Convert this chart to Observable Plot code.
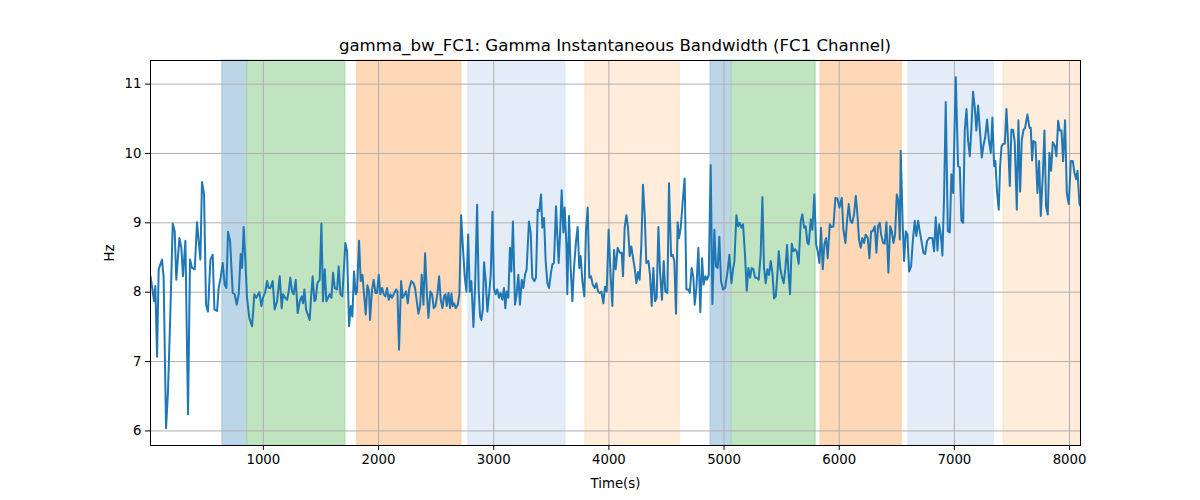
<!DOCTYPE html>
<html>
<head>
<meta charset="utf-8">
<script src="https://cdn.jsdelivr.net/npm/d3@7"></script>
<script src="https://cdn.jsdelivr.net/npm/@observablehq/plot@0.6"></script>
<style>
  body { margin: 0; background: white; }
  #wrap { width: 1200px; height: 500px; background: white; }
  #title { box-sizing: border-box; width: 1200px; height: 56px; padding-top: 38px; padding-left: 30px;
           text-align: center; font-family: "DejaVu Sans", sans-serif; font-size: 16.6px; line-height: 16px; color: black; }
</style>
</head>
<body>
<div id="wrap">
  <div id="title">gamma_bw_FC1: Gamma Instantaneous Bandwidth (FC1 Channel)</div>
  <div id="chart"></div>
</div>
<script>
const times = [
  20,39,51,62,77,91,120,134,155,172,192,213,230,244,271,288,302,323,346,363,381,404,424,438,453,467,485,502,519,540,
  560,575,598,612,629,647,664,679,693,711,734,751,768,786,803,815,829,844,858,878,902,922,939,965,983,997,
  1017,1032,1046,1061,1081,1098,1119,1142,1159,1171,1188,1206,1220,1234,1249,1263,1281,1298,1316,1333,1344,1356,1371,1385,
  1402,1414,1428,1443,1454,1469,1489,1504,1518,1533,1547,1562,1576,1591,1605,1620,1640,1654,1669,1686,1712,1727,1744,1759,
  1773,1787,1802,1813,1831,1845,1860,1874,1889,1903,1918,1926,1944,1958,1973,1987,
  2002,2016,2031,2045,2060,2074,2089,2103,2117,2132,2152,2164,2178,2196,2210,2227,2239,2254,2268,2285,2303,2317,2332,2346,
  2361,2375,2390,2404,2419,2433,2450,2465,2479,2494,2511,2526,2540,2555,2569,2581,2592,2607,2621,2633,2644,2656,2670,2688,
  2702,2717,2731,2749,2763,2778,2792,2806,2824,2838,2856,2870,2882,2893,2905,2916,2931,2945,2960,2974,2989,
  3002,3017,3031,3046,3060,3075,3089,3101,3112,3127,3141,3153,3167,3185,3199,3214,3228,3243,3257,3272,3286,3306,3321,3335,
  3353,3367,3382,3396,3411,3422,3437,3451,3466,3480,3495,3509,3523,3541,3552,3564,3576,3590,3605,3616,3631,3639,3654,3668,
  3683,3697,3715,3729,3743,3755,3770,3787,3801,3816,3830,3845,3859,3877,3891,3906,3920,3935,3952,3966,3981,3998,
  4016,4030,4045,4059,4076,4094,4111,4123,4137,4152,4166,4181,4195,4210,4224,4239,4253,4267,4282,4296,4311,4325,4343,4357,
  4372,4386,4401,4415,4430,4444,4461,4476,4490,4508,4522,4540,4554,4568,4583,4597,4609,4624,4641,4658,4673,4690,4702,4719,
  4734,4745,4760,4777,4794,4809,4823,4838,4852,4867,4884,4899,4916,4930,4945,4959,4974,4991,
  5009,5029,5046,5064,5078,5090,5107,5122,5136,5150,5165,5182,5197,5211,5226,5240,5255,5269,5284,5301,5318,5333,5347,5362,
  5376,5391,5405,5420,5434,5449,5463,5475,5489,5504,5518,5533,5547,5562,5573,5588,5602,5617,5631,5648,5666,5680,5695,5709,
  5724,5735,5753,5767,5784,5799,5813,5828,5842,5857,5871,5886,5900,5918,5932,5950,5967,5984,6002,
  6022,6036,6054,6068,6083,6097,6112,6129,6144,6158,6172,6187,6201,6216,6230,6248,6262,6277,6291,6309,6323,6337,6352,6364,
  6381,6395,6410,6427,6442,6456,6471,6485,6500,6514,6526,6534,6552,6563,6578,6592,6607,6624,6639,6656,6670,6685,6699,6717,
  6731,6746,6763,6780,6795,6809,6824,6838,6853,6867,6882,6896,6911,6925,6943,6960,6974,6989,
  7012,7032,7047,7061,7076,7090,7105,7119,7134,7148,7162,7177,7191,7206,7220,7238,7252,7267,7284,7299,7316,7330,7345,7356,
  7371,7385,7397,7409,7423,7438,7452,7466,7481,7495,7510,7524,7542,7556,7571,7585,7600,7614,7634,7652,7663,7675,7686,7704,
  7721,7736,7750,7768,7782,7796,7811,7825,7840,7854,7872,7886,7901,7915,7930,7944,7961,7976,7993,8011,8028,8043,8057,8069,
  8086,8095
];
const values = [
  8.23,8.01,7.87,8.09,7.07,8.33,8.47,8.21,6.04,6.57,7.68,8.99,8.88,8.18,8.78,8.64,8.23,8.74,6.24,8.47,8.35,8.33,9.01,8.74,8.47,9.59,9.41,7.82,7.72,8.47,
  8.54,7.75,7.73,8.06,8.21,8.42,8.11,8.06,8.87,8.74,7.99,7.97,7.82,7.97,8.55,8.35,8.94,8.45,7.92,7.63,7.51,7.97,7.92,8.00,7.80,7.92,
  8.01,8.16,8.06,8.06,8.16,7.75,7.87,8.23,7.77,7.97,7.92,7.89,8.01,8.21,8.01,7.97,8.18,7.70,7.87,7.94,7.84,8.04,7.75,7.68,
  7.60,7.92,8.23,7.87,7.89,8.13,8.18,8.99,7.87,8.33,7.87,7.92,7.97,7.92,8.28,8.06,8.04,8.37,7.97,7.94,8.71,8.59,7.51,7.80,
  7.65,8.30,7.97,8.01,8.74,8.16,8.25,7.97,7.68,8.10,8.01,7.60,8.04,8.18,7.99,7.99,
  8.25,7.97,8.06,7.97,7.94,8.06,7.89,7.97,7.92,7.97,8.04,8.01,7.17,8.16,7.92,7.97,8.01,7.84,8.06,8.16,8.13,8.06,7.87,7.69,
  7.80,8.25,7.82,8.56,8.01,7.63,8.01,7.97,7.77,7.80,7.97,8.23,7.89,7.77,7.94,7.97,7.80,7.99,7.77,7.98,7.80,7.84,7.77,7.82,
  7.97,9.11,8.69,8.21,8.01,8.83,8.01,8.16,7.50,8.06,9.26,8.01,7.65,7.60,7.75,8.43,8.16,7.72,7.97,8.25,9.16,
  8.06,7.97,8.04,7.92,7.99,7.89,8.06,7.77,8.01,7.92,8.64,8.30,9.02,7.82,7.97,8.25,7.82,8.18,8.06,8.25,8.33,9.02,8.86,8.21,
  8.16,8.21,9.19,9.17,9.41,8.93,9.07,8.45,8.13,8.06,8.25,8.40,8.42,9.24,8.83,8.42,8.83,9.47,8.86,9.22,8.69,7.97,9.10,8.35,
  7.87,8.35,8.74,8.94,8.35,8.52,8.16,7.94,8.88,9.22,8.21,8.23,8.11,8.06,8.13,8.01,7.99,8.01,7.84,8.08,8.01,8.90,
  8.21,7.80,8.61,8.33,8.64,8.57,8.57,8.23,8.93,9.11,8.93,8.52,8.66,8.49,8.35,8.13,8.29,8.18,8.69,9.55,9.12,8.42,8.45,8.25,
  7.80,8.35,7.87,7.92,8.94,8.30,7.89,8.45,8.01,7.99,9.57,8.52,8.54,8.45,7.69,9.01,8.78,8.93,9.31,9.64,8.04,8.04,7.99,8.35,
  8.21,7.82,8.06,8.64,7.71,8.49,8.11,8.23,8.18,8.25,9.83,7.83,8.90,8.37,8.35,8.80,8.16,8.04,
  8.06,8.28,8.54,8.13,8.33,8.45,9.11,8.95,9.00,8.93,8.98,8.54,8.02,8.35,8.21,8.35,8.33,8.21,8.21,8.18,8.54,9.37,8.35,8.13,
  8.33,8.25,8.45,8.28,7.91,7.94,8.25,8.59,8.33,8.21,8.13,8.35,8.68,8.21,7.97,8.70,8.59,8.62,8.59,8.41,9.03,9.12,8.93,8.95,
  8.71,8.69,9.05,8.90,9.41,8.69,8.59,8.42,8.93,8.33,8.69,8.78,8.49,8.98,8.94,8.95,9.36,9.35,9.22,
  9.36,8.90,8.71,9.03,9.27,9.03,9.00,9.12,9.39,9.12,8.76,8.64,8.78,8.71,8.83,8.78,8.49,8.88,8.88,8.95,8.57,8.95,9.00,8.83,
  8.71,8.70,9.01,8.28,8.95,8.88,8.71,8.83,9.41,9.31,8.76,10.04,8.93,8.45,8.88,8.83,8.30,8.37,8.74,9.03,8.81,9.03,8.88,8.71,
  8.57,8.55,8.74,8.78,8.78,8.78,8.59,9.08,8.60,8.98,8.83,8.53,9.41,10.74,8.88,8.86,9.70,9.43,
  11.10,9.82,9.80,9.03,9.00,10.33,10.64,10.18,9.96,10.37,10.89,10.66,10.33,10.69,10.37,9.94,10.11,10.23,10.49,10.20,10.01,10.52,9.82,9.89,
  9.43,9.19,9.81,10.10,10.14,10.14,10.64,10.18,9.53,10.34,10.34,10.16,9.19,10.48,9.45,10.19,10.34,10.37,10.56,10.37,10.37,9.90,10.18,10.16,
  9.43,9.89,9.10,9.70,10.33,9.24,9.12,10.01,9.75,10.16,10.11,9.96,10.47,10.33,10.33,9.89,10.48,9.43,9.27,9.89,9.89,9.72,9.63,9.75,
  9.27,9.24
];
const spanStart = [644, 861, 1816, 2781, 3797, 4883, 5066, 5838, 6602, 7427];
const spanEnd   = [861, 1712, 2720, 3623, 4614, 5066, 5795, 6542, 7341, 8095];
const spanFill  = ["#bcd6e8", "#c0e3c0", "#ffd9b7", "#e4ecf7", "#ffecdb", "#bcd6e8", "#c0e3c0", "#ffd9b7", "#e4ecf7", "#ffecdb"];
const spanEdge  = ["#a6c8e2", "#a9d7a9", "#ffcc9f", "#d9e4f3", "#ffe2c8", "#a6c8e2", "#a9d7a9", "#ffcc9f", "#d9e4f3", "#ffe2c8"];
const xTicks = [1000, 2000, 3000, 4000, 5000, 6000, 7000, 8000];
const yTicks = [6, 7, 8, 9, 10, 11];

const series = times.map((t, i) => ({t, v: values[i]}));
const spans = spanStart.map((s, i) => ({start: s, end: spanEnd[i], fill: spanFill[i], edge: spanEdge[i]}));

const chart = Plot.plot({
  width: 1200,
  height: 444,
  marginLeft: 150,
  marginRight: 120,
  marginTop: 4,
  marginBottom: 55,
  style: {fontFamily: "DejaVu Sans", fontSize: "13.3px", color: "black", background: "white", overflow: "visible"},
  x: {domain: [20, 8095]},
  y: {domain: [5.79, 11.34]},
  color: {type: "identity"},
  marks: [
    Plot.rect(spans, {x1: "start", x2: "end", fill: "fill", stroke: "edge", strokeWidth: 1}),
    Plot.gridX(xTicks, {stroke: "#b0b0b0", strokeOpacity: 1, strokeWidth: 1}),
    Plot.gridY(yTicks, {stroke: "#b0b0b0", strokeOpacity: 1, strokeWidth: 1}),
    Plot.line(series, {x: "t", y: "v", stroke: "#1f77b4", strokeWidth: 2, clip: true}),
    Plot.frame({stroke: "black", strokeWidth: 1}),
    Plot.axisX(xTicks, {tickSize: 5, tickPadding: 4, tickFormat: d => String(d), label: "Time(s)", labelAnchor: "center", labelOffset: 42, labelArrow: "none"}),
    Plot.axisY(yTicks, {tickSize: 5, tickPadding: 4, tickFormat: d => String(d), label: "Hz", labelAnchor: "center", labelOffset: 46, labelArrow: "none"})
  ]
});
document.getElementById("chart").appendChild(chart);
</script>
</body>
</html>
